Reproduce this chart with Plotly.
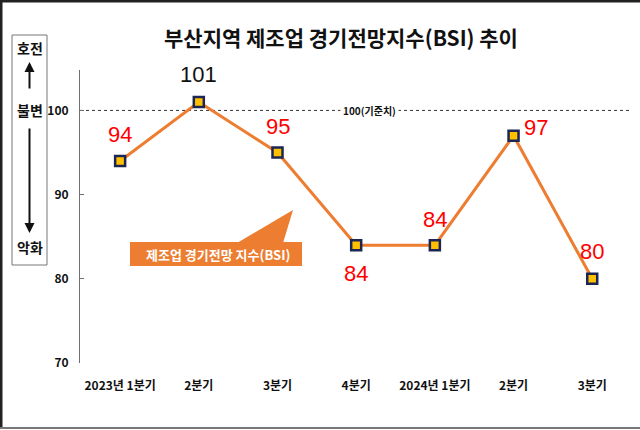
import plotly.graph_objects as go

# ---- data ----
quarters = ["2023년 1분기", "2분기", "3분기", "4분기", "2024년 1분기", "2분기", "3분기"]
bsi = [94, 101, 95, 84, 84, 97, 80]
label_colors = ["#FF0000", "#111111", "#FF0000", "#FF0000", "#FF0000", "#FF0000", "#FF0000"]
# label offsets (px) relative to each point
label_dx = [0, 0, 0, 0, 0, 22, 0]
label_dy = [26, 27, 26, -28, 26, 8, 27]
y_ticks = [70, 80, 90, 100]
baseline = 100

W, H = 640, 430
ML, MR, MT, MB = 80, 10, 70, 67
PW, PH = W - ML - MR, H - MT - MB


def px(x):
    return (x - ML) / PW


def py(y):
    return (H - MB - y) / PH


xs = list(range(len(quarters)))
ORANGE = "#ED7D31"
CJK = "Noto Sans CJK KR"

fig = go.Figure()
fig.add_trace(go.Scatter(
    x=xs, y=bsi, mode="lines+markers",
    line=dict(color=ORANGE, width=3),
    marker=dict(symbol="square", size=10, color="#FFC000",
                line=dict(color="#1C2654", width=2.5)),
    hoverinfo="skip", showlegend=False,
))

annotations = []
for i, v in enumerate(bsi):
    annotations.append(dict(
        x=xs[i], y=v, xref="x", yref="y", text=str(v), showarrow=False,
        xshift=label_dx[i], yshift=label_dy[i], xanchor="center", yanchor="middle",
        font=dict(family="Liberation Sans, Arial", size=22, color=label_colors[i]),
    ))

# baseline label
annotations.append(dict(
    x=px(369), y=baseline, xref="paper", yref="y", text="<b>100(기준치)</b>",
    showarrow=False, bgcolor="white", borderpad=2, xanchor="center", yanchor="middle",
    font=dict(family=CJK, size=10, color="#111111"),
))

# title
annotations.append(dict(
    x=px(341), y=py(37), xref="paper", yref="paper", xanchor="center", yanchor="middle",
    text="<b>부산지역 제조업 경기전망지수(BSI) 추이</b>", showarrow=False,
    font=dict(family=CJK, size=21, color="#111111"),
))

# callout text
annotations.append(dict(
    x=px(218), y=py(254), xref="paper", yref="paper", xanchor="center", yanchor="middle",
    text="<b>제조업 경기전망 지수(BSI)</b>", showarrow=False,
    font=dict(family=CJK, size=13, color="white"),
))

# left legend box texts
for t, yy in [("호전", 48), ("불변", 110), ("악화", 247)]:
    annotations.append(dict(
        x=px(29.5), y=py(yy), xref="paper", yref="paper", text="<b>%s</b>" % t,
        xanchor="center", yanchor="middle",
        showarrow=False, font=dict(family=CJK, size=14, color="#111111"),
    ))
# arrows
annotations.append(dict(
    x=px(29.5), y=py(62), xref="paper", yref="paper", text="", showarrow=True,
    ax=0, ay=28, arrowhead=2, arrowsize=1, arrowwidth=2, arrowcolor="#111111",
))
annotations.append(dict(
    x=px(29.5), y=py(233), xref="paper", yref="paper", text="", showarrow=True,
    ax=0, ay=-106, arrowhead=2, arrowsize=1, arrowwidth=2, arrowcolor="#111111",
))

shapes = [
    # baseline dotted line
    dict(type="line", xref="paper", yref="y", x0=0, x1=1, y0=baseline, y1=baseline,
         line=dict(color="#333333", width=1, dash="dot"), layer="below"),
    # left legend box
    dict(type="rect", xref="paper", yref="paper", x0=px(12), x1=px(47), y0=py(265), y1=py(35),
         line=dict(color="#777777", width=1)),
    # callout rectangle
    dict(type="rect", xref="paper", yref="paper", x0=px(130), x1=px(302), y0=py(266), y1=py(242),
         line=dict(width=0), fillcolor=ORANGE),
    # callout pointer
    dict(type="path", xref="paper", yref="paper",
         path="M %f,%f L %f,%f L %f,%f Z" % (px(237), py(243), px(293), py(210), px(283), py(243)),
         line=dict(width=0), fillcolor=ORANGE),
    # frame
    dict(type="line", xref="paper", yref="paper", x0=px(0), x1=px(640), y0=py(1), y1=py(1),
         line=dict(color="#222222", width=3)),
    dict(type="line", xref="paper", yref="paper", x0=px(1), x1=px(1), y0=py(0), y1=py(428),
         line=dict(color="#222222", width=3)),
    dict(type="line", xref="paper", yref="paper", x0=px(0), x1=px(640), y0=py(428), y1=py(428),
         line=dict(color="#777777", width=2)),
]

fig.update_layout(
    width=W, height=H,
    margin=dict(l=ML, r=MR, t=MT, b=MB),
    paper_bgcolor="white", plot_bgcolor="white",
    showlegend=False,
    annotations=annotations, shapes=shapes,
    xaxis=dict(
        range=[-0.51, 6.48], tickvals=xs, ticktext=["<b>%s</b>" % q for q in quarters],
        showline=False, showgrid=False, zeroline=False, ticks="",
        ticklabelstandoff=14,
        tickfont=dict(family=CJK, size=12, color="#111111"),
        fixedrange=True,
    ),
    yaxis=dict(
        range=[70, 104.8], tickvals=y_ticks, ticktext=["<b>%d</b>" % t for t in y_ticks],
        showline=True, linecolor="#707070", linewidth=1,
        ticks="inside", ticklen=4, tickcolor="#707070",
        showgrid=False, zeroline=False, ticklabelstandoff=8,
        tickfont=dict(family=CJK, size=12, color="#111111"),
        fixedrange=True,
    ),
)

fig.write_html("out.html", config={"displayModeBar": False},
               post_script="document.body.style.margin='0';")
